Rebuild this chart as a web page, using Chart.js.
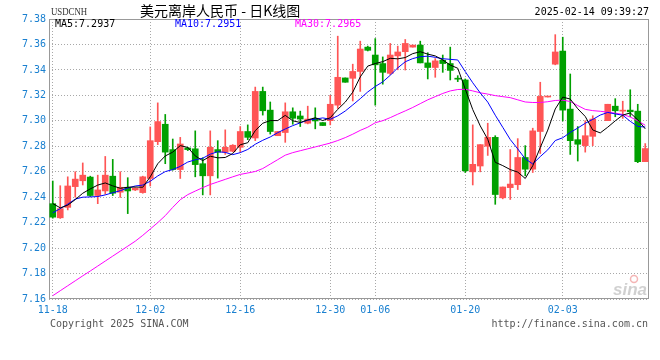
<!DOCTYPE html>
<html>
<head>
<meta charset="utf-8">
<script src="https://cdn.jsdelivr.net/npm/chart.js@4"></script>
<style>
  html, body { margin: 0; padding: 0; background: #fff; }
  #wrap { position: relative; width: 660px; height: 360px; overflow: hidden; }
  #wrap canvas { position: absolute; left: 0; top: 0; }
  .t { position: absolute; white-space: nowrap; font-family: "DejaVu Sans Mono", monospace; font-size: 10px; line-height: 12px; }
</style>
</head>
<body>
<div id="wrap">
  <canvas id="kline" width="660" height="360"></canvas>
  <div class="t" style="left:51px; top:5px; font-family:'Liberation Serif', serif; font-size:11px; color:#333; transform:scaleX(0.8); transform-origin:left top;">USDCNH</div>
  <div class="t" style="left:140px; top:2px; font-family:'Noto Sans CJK SC', sans-serif; font-size:14px; line-height:16px; color:#000;">美元离岸人民币 - 日K线图</div>
  <div class="t" style="right:11px; top:6px; color:#000;">2025-02-14 09:39:27</div>
  <div class="t" id="ma5txt" style="left:55px; top:18px; color:#000;"></div>
  <div class="t" id="ma10txt" style="left:175px; top:18px; color:#0000ff;"></div>
  <div class="t" id="ma30txt" style="left:295px; top:18px; color:#ff00ff;"></div>
  <div class="t" style="left:50px; top:318px; color:#555;">Copyright 2025 SINA.COM</div>
  <div class="t" style="right:12px; top:318px; color:#555;">http://finance.sina.com.cn</div>
</div>
<script>
// data
const dates = [
  "11-18","11-19","11-20","11-21","11-22","11-23","11-25","11-26","11-27","11-28",
  "11-29","11-30","12-01","12-02","12-03","12-04","12-05","12-06","12-07","12-09",
  "12-10","12-11","12-12","12-13","12-14","12-16","12-17","12-18","12-19","12-20",
  "12-21","12-23","12-24","12-25","12-26","12-27","12-28","12-30","12-31","01-01",
  "01-02","01-03","01-04","01-06","01-07","01-08","01-09","01-10","01-11","01-13",
  "01-14","01-15","01-16","01-17","01-18","01-20","01-21","01-22","01-23","01-24",
  "01-25","01-26","01-27","01-28","01-29","01-30","01-31","02-01","02-03","02-04",
  "02-05","02-06","02-07","02-08","02-09","02-10","02-11","02-12","02-13","02-14"
];
const tickDates = ["11-18","12-02","12-16","12-30","01-06","01-20","02-03"];
const yTicks = [7.16,7.18,7.20,7.22,7.24,7.26,7.28,7.30,7.32,7.34,7.36,7.38];

const opens = [
  7.2349,7.2238,7.2320,7.2483,7.2529,7.2558,7.2413,7.2449,7.2565,7.2439,
  7.2478,7.2457,7.2436,7.2547,7.2836,7.2973,7.2774,7.2617,7.2787,7.2780,
  7.2663,7.2568,7.2774,7.2754,7.2761,7.2792,7.2916,7.2865,7.3231,7.3084,
  7.2883,7.2908,7.3071,7.3038,7.2981,7.3020,7.2986,7.3001,7.3123,7.3337,
  7.3334,7.3388,7.3579,7.3517,7.3450,7.3373,7.3510,7.3543,7.3579,7.3595,
  7.3455,7.3419,7.3476,7.3450,7.3334,7.3321,7.2599,7.2645,7.2800,7.2870,
  7.2395,7.2475,7.2498,7.2712,7.2620,7.2916,7.3187,7.3445,7.3548,7.3092,
  7.2852,7.2805,7.2878,null,7.3001,7.3115,7.3076,7.3084,7.3076,7.2679
];
const highs = [
  7.2527,7.2490,7.2560,7.2600,7.2669,7.2565,7.2573,7.2720,7.2697,7.2600,
  7.2553,7.2475,7.2565,7.2952,7.3141,7.3050,7.2857,7.2870,7.2792,7.2921,
  7.2710,7.2921,7.2844,7.2929,7.2813,7.2955,7.2968,7.3265,7.3265,7.3148,
  7.2916,7.3141,7.3102,7.3076,7.3115,7.3102,7.2986,7.3200,7.3665,7.3337,
  7.3445,7.3626,7.3587,7.3646,7.3502,7.3608,7.3587,7.3639,7.3595,7.3626,
  7.3535,7.3489,7.3517,7.3579,7.3355,7.3329,7.2968,7.2813,7.2981,7.2883,
  7.2480,7.2774,7.2860,7.2805,7.2942,7.3303,7.3192,7.3677,7.3657,7.3368,
  7.2955,7.3001,7.3040,null,7.3130,7.3174,7.3154,7.3244,7.3130,7.2821
];
const lows = [
  7.2235,7.2233,7.2300,7.2400,7.2496,7.2405,7.2349,7.2424,7.2413,7.2398,
  7.2271,7.2452,7.2431,7.2488,7.2813,7.2663,7.2612,7.2547,7.2766,7.2560,
  7.2418,7.2418,7.2550,7.2736,7.2756,7.2754,7.2852,7.2844,7.3045,7.2896,
  7.2883,7.2831,7.2973,7.2955,7.2976,7.2937,7.2963,7.2968,7.3097,7.3303,
  7.3156,7.3231,7.3549,7.3123,7.3288,7.3363,7.3401,7.3399,7.3579,7.3455,
  7.3329,7.3342,7.3381,7.3321,7.3308,7.2594,7.2496,7.2599,7.2728,7.2344,
  7.2387,7.2382,7.2460,7.2568,7.2594,7.2743,7.3187,7.3440,7.2999,7.2736,
  7.2684,7.2754,7.2805,null,7.3001,7.3032,7.3019,7.3032,7.2671,7.2679
];
const closes = [
  7.2243,7.2310,7.2488,7.2542,7.2573,7.2413,7.2457,7.2573,7.2431,7.2478,
  7.2449,7.2470,7.2560,7.2844,7.2994,7.2754,7.2617,7.2818,7.2774,7.2656,
  7.2568,7.2792,7.2754,7.2792,7.2808,7.2916,7.2870,7.3231,7.3079,7.2916,
  7.2916,7.3071,7.3020,7.3014,7.3014,7.2999,7.2963,7.3130,7.3342,7.3303,
  7.3388,7.3564,7.3554,7.3440,7.3381,7.3517,7.3541,7.3608,7.3595,7.3455,
  7.3419,7.3471,7.3450,7.3396,7.3327,7.2607,7.2658,7.2813,7.2870,7.2421,
  7.2480,7.2503,7.2712,7.2620,7.2921,7.3192,7.3192,7.3541,7.3084,7.2844,
  7.2816,7.2883,7.3014,null,7.3130,7.3079,7.3081,7.3071,7.2679,7.2782
];
const ma5 = [
  7.2350,7.2316,7.2337,7.2381,7.2431,7.2465,7.2495,7.2512,7.2489,7.2470,
  7.2478,7.2480,7.2478,7.2560,7.2663,7.2724,7.2754,7.2805,7.2791,7.2724,
  7.2687,7.2722,7.2709,7.2712,7.2743,7.2812,7.2828,7.2923,7.2981,7.3002,
  7.3002,7.3043,7.3000,7.2987,7.3007,7.3024,7.3002,7.3024,7.3090,7.3147,
  7.3225,7.3345,7.3430,7.3450,7.3465,7.3491,7.3487,7.3497,7.3528,7.3543,
  7.3524,7.3510,7.3478,7.3438,7.3413,7.3250,7.3088,7.2960,7.2855,7.2674,
  7.2648,7.2617,7.2597,7.2547,7.2647,7.2790,7.2927,7.3093,7.3186,7.3171,
  7.3095,7.3034,7.2928,7.2905,7.2950,7.3000,7.3045,7.3062,7.3008,7.2937
];
const ma10 = [
  7.2277,7.2310,7.2345,7.2385,7.2400,7.2402,7.2405,7.2418,7.2435,7.2451,
  7.2472,7.2488,7.2495,7.2525,7.2567,7.2601,7.2617,7.2642,7.2676,7.2694,
  7.2706,7.2738,7.2757,7.2752,7.2734,7.2750,7.2775,7.2816,7.2847,7.2873,
  7.2907,7.2936,7.2962,7.2984,7.3005,7.3013,7.3023,7.3012,7.3039,7.3077,
  7.3125,7.3174,7.3227,7.3270,7.3306,7.3358,7.3416,7.3464,7.3489,7.3504,
  7.3508,7.3499,7.3488,7.3483,7.3478,7.3387,7.3299,7.3219,7.3147,7.3044,
  7.2949,7.2853,7.2779,7.2701,7.2661,7.2719,7.2772,7.2845,7.2867,7.2909,
  7.2943,7.2981,7.3011,7.3045,7.3066,7.3054,7.3044,7.2996,7.2956,7.2951
];
const ma30 = [
  7.1626,7.1665,7.1704,7.1743,7.1782,7.1820,7.1859,7.1898,7.1937,7.1976,
  7.2015,7.2054,7.2100,7.2150,7.2200,7.2255,7.2320,7.2380,7.2420,7.2448,
  7.2475,7.2500,7.2520,7.2540,7.2560,7.2579,7.2590,7.2602,7.2625,7.2660,
  7.2695,7.2730,7.2750,7.2765,7.2780,7.2795,7.2810,7.2825,7.2845,7.2868,
  7.2895,7.2925,7.2950,7.2985,7.3001,7.3025,7.3052,7.3078,7.3105,7.3135,
  7.3165,7.3190,7.3215,7.3235,7.3246,7.3248,7.3235,7.3220,7.3210,7.3198,
  7.3190,7.3182,7.3165,7.3148,7.3144,7.3144,7.3150,7.3160,7.3162,7.3152,
  7.3120,7.3090,7.3080,7.3075,7.3068,7.3060,7.3050,7.3030,7.3000,7.2965
];

const UP = "#ff5555";
const DOWN = "#00a000";
const AXIS_TEXT = "#1a80d0";
const GRID = "#a8a8a8";

const bodies = opens.map((o, i) => o == null ? null : [o, closes[i]]);
const wicks = lows.map((l, i) => l == null ? null : [l, highs[i]]);
const candleColors = opens.map((o, i) => closes[i] >= o ? UP : DOWN);

document.getElementById("ma5txt").textContent = "MA5:" + ma5[ma5.length - 1].toFixed(4);
document.getElementById("ma10txt").textContent = "MA10:" + ma10[ma10.length - 1].toFixed(4);
document.getElementById("ma30txt").textContent = "MA30:" + ma30[ma30.length - 1].toFixed(4);

// frame + sina watermark behind the candles
const framePlugin = {
  id: "frame",
  beforeDatasetsDraw(chart) {
    const { ctx, chartArea: a } = chart;
    ctx.save();
    ctx.font = 'italic bold 17px "Liberation Sans"';
    ctx.fillStyle = "rgba(150,150,150,0.45)";
    ctx.textAlign = "right";
    ctx.textBaseline = "alphabetic";
    ctx.fillText("sina", a.right - 2, a.bottom - 4);
    ctx.strokeStyle = "rgba(230,90,90,0.45)";
    ctx.lineWidth = 1.5;
    ctx.beginPath();
    ctx.arc(a.right - 15, a.bottom - 20, 3.5, 0, Math.PI * 2);
    ctx.stroke();
    ctx.strokeStyle = "#999";
    ctx.lineWidth = 1;
    ctx.strokeRect(Math.round(a.left) + 0.5, Math.round(a.top) + 0.5,
      Math.round(a.right - a.left) - 1, Math.round(a.bottom - a.top) - 1);
    ctx.restore();
  }
};

new Chart(document.getElementById("kline"), {
  type: "bar",
  data: {
    labels: dates,
    datasets: [
      { type: "line", label: "MA5", data: ma5, borderColor: "#000", borderWidth: 1, pointRadius: 0, tension: 0, order: 0 },
      { type: "line", label: "MA10", data: ma10, borderColor: "#0000ff", borderWidth: 1, pointRadius: 0, tension: 0, order: 0 },
      { type: "line", label: "MA30", data: ma30, borderColor: "#ff00ff", borderWidth: 1, pointRadius: 0, tension: 0, order: 0 },
      { label: "body", data: bodies, backgroundColor: candleColors, barThickness: 6, minBarLength: 1, grouped: false, order: 1 },
      { label: "wick", data: wicks, backgroundColor: candleColors, barThickness: 1, grouped: false, order: 2 }
    ]
  },
  options: {
    responsive: false,
    animation: false,
    devicePixelRatio: 1,
    layout: { padding: { top: 19, right: 11, left: 0, bottom: 0 } },
    plugins: { legend: { display: false }, tooltip: { enabled: false } },
    scales: {
      x: {
        type: "category",
        offset: true,
        afterFit: s => { s.height = 61; },
        grid: {
          offset: false,
          drawTicks: false,
          color: c => tickDates.includes(dates[c.index]) ? GRID : "rgba(0,0,0,0)"
        },
        border: { display: false, dash: [1, 2] },
        ticks: {
          autoSkip: false,
          maxRotation: 0,
          minRotation: 0,
          padding: 5,
          color: AXIS_TEXT,
          font: { family: "DejaVu Sans Mono", size: 10 },
          callback: (v, i) => tickDates.includes(dates[i]) ? dates[i] : ""
        }
      },
      y: {
        min: 7.16,
        max: 7.38,
        afterFit: s => { s.width = 49; },
        afterBuildTicks: s => { s.ticks = yTicks.map(v => ({ value: v })); },
        grid: { drawTicks: false, color: GRID },
        border: { display: false, dash: [1, 2] },
        ticks: {
          padding: 3,
          color: AXIS_TEXT,
          font: { family: "DejaVu Sans Mono", size: 10 },
          callback: v => Number(v).toFixed(2)
        }
      }
    }
  },
  plugins: [framePlugin]
});
</script>
</body>
</html>
